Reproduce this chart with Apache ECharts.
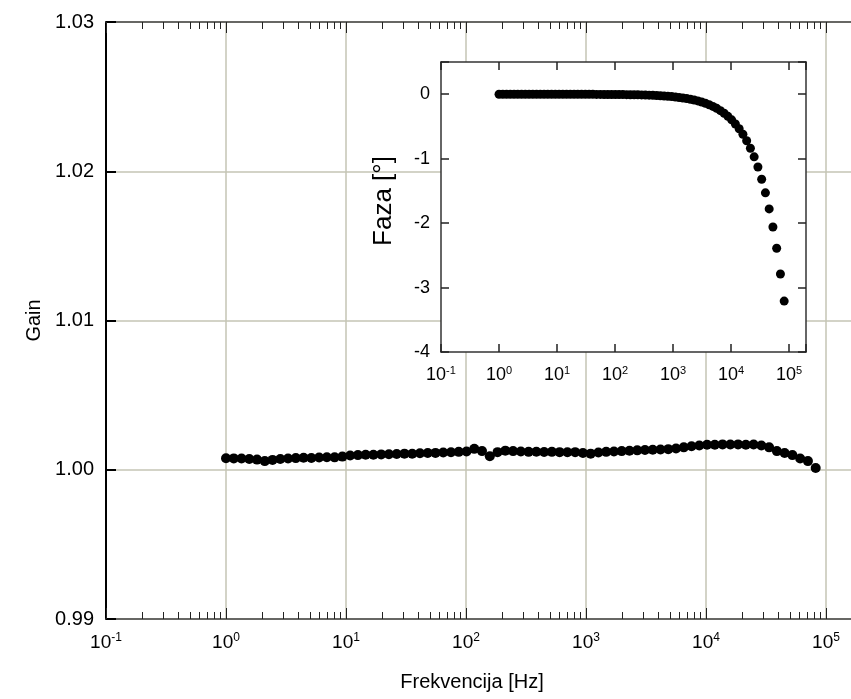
<!DOCTYPE html>
<html><head><meta charset="utf-8">
<script src="https://cdn.jsdelivr.net/npm/echarts@6/dist/echarts.min.js"></script>
<style>html,body{margin:0;padding:0;background:#fff}#c{width:851px;height:699px}</style>
</head><body><div id="c"></div>
<script>
// Measurement frequencies [Hz]
const freqHz = [1.000,1.161,1.347,1.563,1.814,2.105,2.443,2.835,3.290,3.818,
  4.431,5.144,5.970,6.928,8.040,9.330,10.83,12.57,14.58,16.92,
  19.64,22.79,26.45,30.70,35.62,41.34,47.98,55.68,64.62,74.99,
  87.03,101.0,117.2,136.0,157.9,183.2,212.7,246.8,286.4,332.4,
  385.8,447.7,519.5,602.9,699.7,812.0,942.5,1094,1269,1473,
  1710,1984,2303,2672,3101,3599,4177,4848,5626,6529,
  7577,8794,10205,11843,13744,15950,18510,21480,24930,28930,
  33580,38970,45220,52480,60900,70680,82030];
// Gain (main plot)
const gain = [1.00077,1.00076,1.00075,1.00072,1.00068,1.00058,1.00066,1.00072,1.00075,1.00078,
  1.00080,1.00079,1.00082,1.00084,1.00083,1.00088,1.00095,1.00098,1.00100,1.00101,
  1.00103,1.00104,1.00106,1.00108,1.00107,1.00110,1.00112,1.00113,1.00115,1.00117,
  1.00120,1.00122,1.00140,1.00125,1.00090,1.00118,1.00128,1.00125,1.00122,1.00120,
  1.00121,1.00119,1.00120,1.00118,1.00117,1.00118,1.00112,1.00108,1.00115,1.00120,
  1.00122,1.00125,1.00127,1.00130,1.00132,1.00134,1.00136,1.00138,1.00142,1.00150,
  1.00158,1.00163,1.00167,1.00168,1.00170,1.00169,1.00170,1.00168,1.00169,1.00162,
  1.00150,1.00125,1.00112,1.00098,1.00075,1.00058,1.00012];
// Phase [deg] (inset)
const phaseDeg = [0,0,0,0,0,0,0,0,0,0,
  0,0,0,0,0,0,0,0,0,0,
  0,0,0,0,0,-0.002,-0.003,-0.003,-0.004,-0.004,
  -0.005,-0.005,-0.005,-0.006,-0.007,-0.008,-0.009,-0.010,-0.011,-0.013,
  -0.015,-0.017,-0.020,-0.024,-0.028,-0.032,-0.037,-0.043,-0.050,-0.058,
  -0.067,-0.078,-0.090,-0.104,-0.121,-0.140,-0.163,-0.189,-0.219,-0.255,
  -0.296,-0.343,-0.398,-0.462,-0.536,-0.622,-0.722,-0.838,-0.972,-1.13,
  -1.32,-1.53,-1.78,-2.06,-2.39,-2.79,-3.21];

const gainRange = [0.99, 1.03];
const gainStep = 0.01;
const phaseRange = [-4, 0.5];
const phaseStep = 1;
const mainFreqRange = [0.1, 1e6];
const insetFreqRange = [0.1, 195000];

const FONT = 'Liberation Sans, Arial, sans-serif';
const gridColor = '#c4c4b4';

function powLabel(v) {
  const e = Math.log10(v);
  if (Math.abs(e - Math.round(e)) > 1e-6) return '';
  return '{b|10}{s|' + Math.round(e) + '}';
}
function richFor(big, small) {
  return {
    b: {fontSize: big, fontFamily: FONT, color: '#000', lineHeight: big + 2},
    s: {fontSize: small, fontFamily: FONT, color: '#000', verticalAlign: 'top', lineHeight: small}
  };
}

const chart = echarts.init(document.getElementById('c'), null, {renderer: 'canvas'});
const option = {
  animation: false,
  backgroundColor: '#fff',
  textStyle: {fontFamily: FONT},
  title: {
    text: 'Frekvencija [Hz]', left: 467, top: 667, textAlign: 'center',
    textStyle: {fontSize: 20, fontWeight: 'normal', color: '#000', fontFamily: FONT}
  },
  grid: [
    {left: 106, top: 22, width: 840, height: 597, show: false, outerBoundsMode: 'none', containLabel: false},
    {left: 441, top: 62, width: 365, height: 290, show: true, backgroundColor: '#fff', borderWidth: 0, z: 10, outerBoundsMode: 'none', containLabel: false}
  ],
  xAxis: [
    {
      type: 'log', logBase: 10, gridIndex: 0, position: 'bottom',
      min: mainFreqRange[0], max: mainFreqRange[1],
      axisLine: {show: true, onZero: false, lineStyle: {color: '#444', width: 1.5}},
      axisTick: {show: true, inside: true, length: 11, lineStyle: {color: '#222', width: 1}},
      minorTick: {show: true, splitNumber: 9, length: 7, lineStyle: {color: '#222', width: 1}},
      splitLine: {show: true, lineStyle: {color: gridColor, width: 1.5}},
      axisLabel: {formatter: powLabel, margin: 13, rich: richFor(19, 12)}
    },
    {
      type: 'log', logBase: 10, gridIndex: 0, position: 'top',
      min: mainFreqRange[0], max: mainFreqRange[1],
      axisLine: {show: true, onZero: false, lineStyle: {color: '#444', width: 1.5}},
      axisTick: {show: true, inside: true, length: 11, lineStyle: {color: '#222', width: 1}},
      minorTick: {show: true, splitNumber: 9, length: 7, lineStyle: {color: '#222', width: 1}},
      splitLine: {show: false},
      axisLabel: {show: false}
    },
    {
      type: 'log', logBase: 10, gridIndex: 1, position: 'bottom',
      min: insetFreqRange[0], max: insetFreqRange[1], z: 11,
      axisLine: {show: true, onZero: false, lineStyle: {color: '#333', width: 1.5}},
      axisTick: {show: true, inside: true, length: 8, lineStyle: {color: '#222', width: 1.5}},
      splitLine: {show: false},
      axisLabel: {formatter: powLabel, margin: 13, rich: richFor(18, 11)}
    },
    {
      type: 'log', logBase: 10, gridIndex: 1, position: 'top',
      min: insetFreqRange[0], max: insetFreqRange[1], z: 11,
      axisLine: {show: true, onZero: false, lineStyle: {color: '#333', width: 1.5}},
      axisTick: {show: true, inside: true, length: 8, lineStyle: {color: '#222', width: 1.5}},
      splitLine: {show: false},
      axisLabel: {show: false}
    }
  ],
  yAxis: [
    {
      type: 'value', gridIndex: 0, position: 'left',
      min: gainRange[0], max: gainRange[1], interval: gainStep,
      axisLine: {show: true, onZero: false, lineStyle: {color: '#000', width: 2}},
      axisTick: {show: true, inside: true, length: 10, lineStyle: {color: '#000', width: 2}},
      splitLine: {show: true, lineStyle: {color: gridColor, width: 1.5}},
      axisLabel: {formatter: v => v.toFixed(2), fontSize: 20, margin: 12, color: '#000'},
      name: 'Gain', nameLocation: 'middle', nameGap: 56, nameRotate: 90,
      nameTextStyle: {fontSize: 20, color: '#000'}
    },
    {
      type: 'value', gridIndex: 1, position: 'left', z: 11,
      min: phaseRange[0], max: phaseRange[1], interval: phaseStep,
      axisLine: {show: true, onZero: false, lineStyle: {color: '#333', width: 1.5}},
      axisTick: {show: true, inside: true, length: 8, lineStyle: {color: '#222', width: 1.5}},
      splitLine: {show: false},
      axisLabel: {formatter: v => (Math.abs(v - Math.round(v)) > 1e-6 ? '' : String(Math.round(v))), fontSize: 18, margin: 11, color: '#000'},
      name: 'Faza [°]', nameLocation: 'middle', nameGap: 44, nameRotate: 90,
      nameTextStyle: {fontSize: 26, color: '#000', padding: [0, 0, 0, 12]}
    },
    {
      type: 'value', gridIndex: 1, position: 'right', z: 11,
      min: phaseRange[0], max: phaseRange[1], interval: phaseStep,
      axisLine: {show: true, onZero: false, lineStyle: {color: '#333', width: 1.5}},
      axisTick: {show: true, inside: true, length: 8, lineStyle: {color: '#222', width: 1.5}},
      splitLine: {show: false},
      axisLabel: {show: false}
    }
  ],
  series: [
    {
      type: 'scatter', xAxisIndex: 0, yAxisIndex: 0, z: 3,
      symbol: 'circle', symbolSize: 10, itemStyle: {color: '#000', opacity: 1},
      data: freqHz.map((f, i) => [f, gain[i]])
    },
    {
      type: 'scatter', xAxisIndex: 2, yAxisIndex: 1, z: 12,
      symbol: 'circle', symbolSize: 9, itemStyle: {color: '#000', opacity: 1},
      data: freqHz.map((f, i) => [f, phaseDeg[i]])
    }
  ]
};
chart.setOption(option);
</script>
</body></html>
